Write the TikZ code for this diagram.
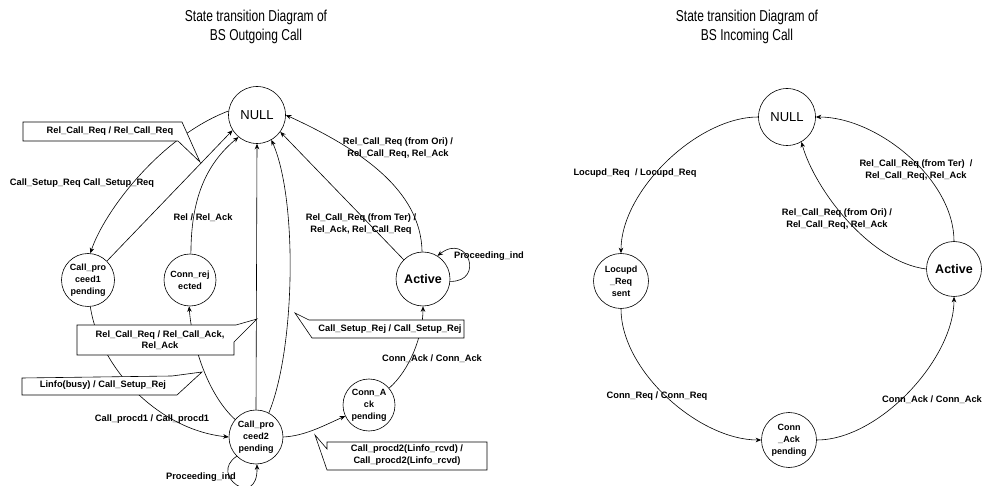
\documentclass[tikz,border=0pt]{standalone}
\usepackage{fontspec}
\setmainfont{Liberation Sans}
\newfontfamily\titlefont[FakeStretch=0.76]{Liberation Sans}
\usetikzlibrary{arrows.meta}

\newcommand{\lblfont}{\fontsize{9.3}{11.5}\selectfont\bfseries}
\newcommand{\stfont}{\fontsize{9}{12}\selectfont\bfseries}

\tikzset{
  state/.style={circle, draw, line width=0.6pt, minimum size=52pt, inner sep=0pt,
                align=center, font=\stfont},
  nullstate/.style={state, minimum size=57pt, font=\fontsize{13}{15}\selectfont},
  activestate/.style={state, minimum size=54pt, font=\fontsize{12.5}{15}\selectfont\bfseries},
  trans/.style={draw, line width=0.6pt, -{Stealth[length=5.5pt,width=4.5pt]}},
  lbl/.style={font=\lblfont, align=center, inner sep=0pt},
  callout/.style={draw, fill=white, line width=0.6pt},
  heading/.style={align=center, inner sep=0pt,
                  font=\titlefont\fontsize{15.8}{19}\selectfont}
}

\begin{document}
\begin{tikzpicture}[x=1pt, y=-1pt]
\useasboundingbox (0,0) rectangle (986,486);

% ---------------- headings ----------------
\node[heading] (headL) at (256,27) {State transition Diagram of\\BS Outgoing Call};
\node[heading] (headR) at (747,27) {State transition Diagram of\\BS Incoming Call};

% ================= outgoing call =================
\node[nullstate]   (nullL) at (257,115) {NULL};
\node[state, minimum size=53pt] (cp1) at (88,280) {Call\_pro\\ceed1\\pending};
\node[state]       (crej)  at (190,280) {Conn\_rej\\ected};
\node[activestate] (actL)  at (423,279) {Active};
\node[state]       (cak)   at (369,405) {Conn\_A\\ck\\pending};
\node[state, minimum size=54pt] (cp2) at (256,437) {Call\_pro\\ceed2\\pending};

% transitions
\draw[trans] (nullL.172) .. controls (160,137) and (104,212) .. (cp1.85);
\draw[trans] (cp1.45) -- (nullL.212);
\draw[trans] (crej.88) .. controls (191,200) and (205,165) .. (nullL.230);
\draw[trans] (cp2.north) -- (nullL.south);
\draw[trans] (cp2.62) .. controls (295,350) and (298,200) .. (nullL.300);
\draw[trans] (actL.135) -- (nullL.324);
\draw[trans] (actL.92) .. controls (421,190) and (360,149) .. (nullL.0);
\draw[trans] (actL.355) .. controls (485,282) and (468,232) .. (actL.58);
\draw[trans] (cak.40) .. controls (410,370) and (423,335) .. (actL.south);
\draw[trans] (cp2.east) .. controls (305,436) and (325,425) .. (cak.205);
\draw[trans] (cp1.275) .. controls (100,370) and (160,430) .. (cp2.180);
\draw[trans] (cp2.140) .. controls (208,395) and (192,345) .. (crej.268);
\draw[trans] (cp2.225) .. controls (208,475) and (258,510) .. (cp2.272);

% free labels
\node[lbl] (lSetup)  at (82,183)  {Call\_Setup\_Req Call\_Setup\_Req};
\node[lbl] (lRel)    at (203,218) {Rel / Rel\_Ack};
\node[lbl] (lTer)    at (361,224) {Rel\_Call\_Req (from Ter) /\\Rel\_Ack, Rel\_Call\_Req};
\node[lbl] (lOri)    at (398,148) {Rel\_Call\_Req (from Ori) /\\Rel\_Call\_Req, Rel\_Ack};
\node[lbl] (lProcA)  at (489,256) {Proceeding\_ind};
\node[lbl] (lConnAck) at (432,359) {Conn\_Ack / Conn\_Ack};
\node[lbl] (lProcd1) at (152,419) {Call\_procd1 / Call\_procd1};
\node[lbl] (lProcB)  at (201,477) {Proceeding\_ind};

% callouts
\draw[callout] (23,122) -- (182,122) -- (200,162) -- (178,141) -- (23,141) -- cycle;
\node[lbl] (cRelReq) at (110,131) {Rel\_Call\_Req / Rel\_Call\_Req};

\draw[callout] (77,325) -- (236,325) -- (257,319) -- (234,342) -- (234,355) -- (77,355) -- cycle;
\node[lbl] (cRelAck) at (160,340) {Rel\_Call\_Req / Rel\_Call\_Ack,\\Rel\_Ack};

\draw[callout] (22,378) -- (172,376) -- (202,372) -- (177,395) -- (22,395) -- cycle;
\node[lbl] (cBusy) at (103,385) {Linfo(busy) / Call\_Setup\_Rej};

\draw[callout] (309,320) -- (464,320) -- (464,338) -- (312,338) -- (295,313) -- cycle;
\node[lbl] (cSetupRej) at (390,329) {Call\_Setup\_Rej / Call\_Setup\_Rej};

\draw[callout] (327,442) -- (487,442) -- (487,470) -- (327,470) -- (315,435) -- (327,449) -- cycle;
\node[lbl] (cProcd2) at (407,455) {Call\_procd2(Linfo\_rcvd) /\\Call\_procd2(Linfo\_rcvd)};

% ================= incoming call =================
\node[nullstate]   (nullR) at (787,117) {NULL};
\node[state, minimum size=55pt] (loc)  at (621,281) {Locupd\\\_Req\\sent};
\node[activestate, minimum size=55pt] (actR) at (954,269) {Active};
\node[state, minimum size=55pt] (cakR) at (789,440) {Conn\\\_Ack\\pending};

\draw[trans] (nullR.180) .. controls (697,117) and (621,191) .. (loc.90);
\draw[trans] (loc.270) .. controls (621,371) and (699,440) .. (cakR.180);
\draw[trans] (cakR.0) .. controls (879,440) and (954,359) .. (actR.270);
\draw[trans] (actR.90) .. controls (954,179) and (877,117) .. (nullR.0);
\draw[trans] (actR.180) .. controls (870,262) and (815,190) .. (nullR.300);

\node[lbl] (rLoc)  at (635,173) {Locupd\_Req~~/ Locupd\_Req};
\node[lbl] (rTer)  at (916,170) {Rel\_Call\_Req (from Ter)~~/\\Rel\_Call\_Req, Rel\_Ack};
\node[lbl] (rOri)  at (837,219) {Rel\_Call\_Req (from Ori) /\\Rel\_Call\_Req, Rel\_Ack};
\node[lbl] (rConnReq) at (657,396) {Conn\_Req / Conn\_Req};
\node[lbl] (rConnAck) at (932,400) {Conn\_Ack / Conn\_Ack};
\end{tikzpicture}
\end{document}
